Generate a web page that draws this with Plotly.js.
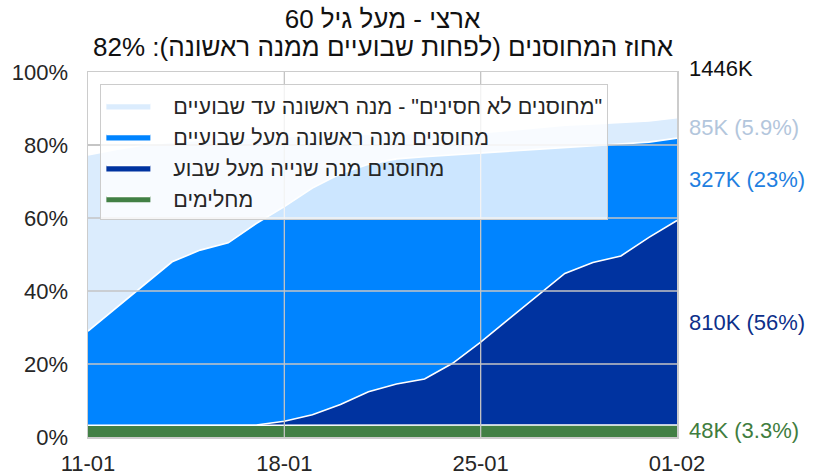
<!DOCTYPE html>
<html>
<head>
<meta charset="utf-8">
<script src="https://cdn.plot.ly/plotly-3.0.1.min.js"></script>
<style>html,body{margin:0;padding:0;background:#fff;}#chart{width:816px;height:475px;}</style>
</head>
<body>
<div id="chart"></div>
<script>
const dates = ['2021-01-11','2021-01-12','2021-01-13','2021-01-14','2021-01-15','2021-01-16','2021-01-17',
  '2021-01-18','2021-01-19','2021-01-20','2021-01-21','2021-01-22','2021-01-23','2021-01-24',
  '2021-01-25','2021-01-26','2021-01-27','2021-01-28','2021-01-29','2021-01-30','2021-01-31','2021-02-01'];

// percent of population (stacked layers, bottom to top)
const recovered = [3.2,3.2,3.2,3.2,3.2,3.2,3.2,3.2,3.2,3.2,3.3,3.3,3.3,3.3,3.3,3.3,3.3,3.3,3.3,3.3,3.3,3.3];
const secondDoseWeek = [0,0,0,0,0,0,0.1,1.1,2.9,5.7,9.1,11.2,12.6,16.9,22.7,29.0,35.3,41.5,44.5,46.3,51.4,56.0];
const firstDoseTwoWeeks = [25.8,32.1,38.6,44.8,48.0,50.0,55.2,58.8,62.1,63.2,62.3,61.7,60.9,57.1,51.7,45.9,40.1,34.4,31.9,30.6,26.1,22.6];
const firstDoseUnder = [48.3,43.5,38.2,32.8,30.1,28.5,23.5,19.2,14.4,10.7,8.3,6.9,6.4,6.0,5.7,5.8,6.1,6.2,6.1,6.0,5.8,5.6];

const seriesNames = ['מחלימים','מחוסנים מנה שנייה מעל שבוע','מחוסנים מנה ראשונה מעל שבועיים','\u200F"מחוסנים לא חסינים" - מנה ראשונה עד שבועיים'];
const seriesColors = ['#428045','#0033a0','#0084ff','#dbecfd'];
const labelTexts = ['48K (3.3%)','810K (56%)','327K (23%)','85K (5.9%)'];
const labelColors = ['#3f7d40','#0d2f8a','#1f80e0','#b3c6dc'];
const totalLabel = '1446K';

const titleLine1 = 'ארצי - מעל גיל 60';
const titleLine2 = 'אחוז המחוסנים (לפחות שבועיים ממנה ראשונה): 82%';

const tickVals = ['2021-01-11','2021-01-18','2021-01-25','2021-02-01'];
const tickText = ['11-01','18-01','25-01','01-02'];
const yTickVals = [0,20,40,60,80,100];
const yTickText = ['0%','20%','40%','60%','80%','100%'];

const layers = [recovered, secondDoseWeek, firstDoseTwoWeeks, firstDoseUnder];
const FONT = 'Liberation Sans, Arial, sans-serif';
const PAD = '\u00A0\u00A0\u00A0';

const traces = layers.map((vals, i) => ({
  type: 'scatter', mode: 'lines', x: dates, y: vals,
  stackgroup: 'one', name: PAD + seriesNames[i], legendgroup: 'g' + i,
  fillcolor: seriesColors[i],
  line: {color: '#ffffff', width: 1.6},
  hoverinfo: 'skip'
}));

// labels at the last point: middle of each layer
const last = dates.length - 1;
let cum = 0;
const annotations = layers.map((vals, i) => {
  const mid = cum + vals[last] / 2;
  cum += vals[last];
  return {xref: 'paper', x: 1, yref: 'y', y: mid, xanchor: 'left', yanchor: 'middle',
    xshift: 10, text: labelTexts[i], showarrow: false,
    font: {size: 22, color: labelColors[i], family: FONT}};
});
annotations.push({xref: 'paper', x: 1, yref: 'paper', y: 1, xanchor: 'left', yanchor: 'middle',
  xshift: 10, yshift: 4, text: totalLabel, showarrow: false,
  font: {size: 22, color: '#111', family: FONT}});
annotations.push({xref: 'paper', x: 0.5, yref: 'paper', y: 1, xanchor: 'center', yanchor: 'middle',
  yshift: 25, text: titleLine2, showarrow: false,
  font: {size: 26, color: '#111', family: FONT}});

// gridlines drawn above the filled areas (as in the reference)
const gridStyle = {color: '#c4c4c4', width: 1.3};
const shapes = [];
tickVals.slice(1, -1).forEach(v => shapes.push({type: 'line', layer: 'above', xref: 'x', yref: 'paper',
  x0: v, x1: v, y0: 0, y1: 1, line: gridStyle}));
yTickVals.slice(1, -1).forEach(v => shapes.push({type: 'line', layer: 'above', xref: 'paper', yref: 'y',
  x0: 0, x1: 1, y0: v, y1: v, line: gridStyle}));

const layout = {
  width: 816, height: 475,
  margin: {l: 87.5, r: 139, t: 72, b: 38},
  paper_bgcolor: '#fff', plot_bgcolor: '#fff',
  font: {family: FONT, color: '#262626', size: 22},
  title: {text: titleLine1,
    font: {size: 26, color: '#111', family: FONT}, x: 0.5, xref: 'paper', xanchor: 'center',
    y: 1 - 19 / 475, yref: 'container', yanchor: 'middle'},
  showlegend: true,
  legend: {x: 0.021, y: 0.967, xanchor: 'left', yanchor: 'top', traceorder: 'reversed',
    bgcolor: 'rgba(255,255,255,0.8)', bordercolor: '#cccccc', borderwidth: 1,
    font: {size: 21.5, color: '#262626', family: FONT}, tracegroupgap: 5, itemwidth: 44},
  xaxis: {type: 'date', range: ['2021-01-11','2021-02-01'], tickvals: tickVals, ticktext: tickText,
    showgrid: true, gridcolor: '#c8c8c8', gridwidth: 1.3, zeroline: false,
    showline: true, linecolor: '#cccccc', linewidth: 1.5, mirror: true, layer: 'above traces',
    ticks: 'outside', ticklen: 6, tickcolor: 'rgba(0,0,0,0)', tickfont: {size: 22, color: '#262626'}},
  yaxis: {range: [0, 100], tickvals: yTickVals, ticktext: yTickText,
    showgrid: true, gridcolor: '#c8c8c8', gridwidth: 1.3, zeroline: false,
    showline: true, linecolor: '#cccccc', linewidth: 1.5, mirror: true, layer: 'above traces',
    ticks: 'outside', ticklen: 14, tickcolor: 'rgba(0,0,0,0)', tickfont: {size: 22, color: '#262626'}},
  shapes: shapes,
  annotations: annotations
};

Plotly.newPlot('chart', traces, layout, {displayModeBar: false, staticPlot: true});
</script>
</body>
</html>
